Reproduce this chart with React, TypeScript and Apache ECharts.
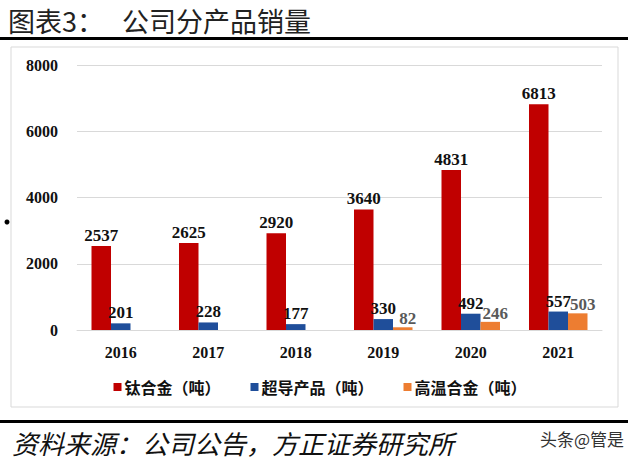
import React, { useEffect, useRef } from "react";
import * as echarts from "echarts";

const categories = ["2016", "2017", "2018", "2019", "2020", "2021"];
const titanium = [2537, 2625, 2920, 3640, 4831, 6813];
const superconduct = [201, 228, 177, 330, 492, 557];
const hightemp: (number | null)[] = [null, null, null, 82, 246, 503];
const seriesNames = ["钛合金（吨）", "超导产品（吨）", "高温合金（吨）"];

const NUM_FONT = "'Liberation Serif', 'Times New Roman', serif";
const CJK_FONT = "'Noto Sans CJK SC', sans-serif";

export default function App() {
  const ref = useRef<HTMLDivElement>(null);
  useEffect(() => {
    if (!ref.current) return;
    const chart = echarts.init(ref.current, null, { renderer: "svg" });
    const label = (color: string, dx: number) => ({
      show: true,
      position: "top" as const,
      distance: 2,
      offset: [dx, 0],
      color,
      fontFamily: NUM_FONT,
      fontWeight: "bold" as const,
      fontSize: 17,
    });
    chart.setOption({
      animation: false,
      backgroundColor: "#ffffff",
      graphic: [
        { type: "text", x: 8, y: 20, style: { text: "图表3：", fontFamily: CJK_FONT, fontSize: 27, fill: "#222", verticalAlign: "middle" } },
        { type: "text", x: 122, y: 20, style: { text: "公司分产品销量", fontFamily: CJK_FONT, fontSize: 27, fill: "#222", verticalAlign: "middle" } },
        { type: "rect", shape: { x: 0, y: 37, width: 628, height: 3 }, style: { fill: "#000" } },
        { type: "rect", shape: { x: 11, y: 47, width: 607, height: 360 }, style: { fill: "none", stroke: "#d9d9d9", lineWidth: 1 } },
        { type: "circle", shape: { cx: 7, cy: 222, r: 2.5 }, style: { fill: "#000" } },
        { type: "rect", shape: { x: 0, y: 420, width: 628, height: 3 }, style: { fill: "#000" } },
        { type: "text", x: 12, y: 442, style: { text: "资料来源：公司公告，方正证券研究所", fontFamily: CJK_FONT, fontSize: 26, fontStyle: "italic", fill: "#111", verticalAlign: "middle" } },
        { type: "text", x: 540, y: 438, style: { text: "头条@管是", fontFamily: CJK_FONT, fontSize: 17, fill: "#333", verticalAlign: "middle" } },
      ],
      legend: {
        top: 374,
        left: "center",
        icon: "rect",
        itemWidth: 8,
        itemHeight: 8,
        itemGap: 30,
        textStyle: { fontFamily: CJK_FONT, fontWeight: "bold", fontSize: 16, color: "#111", padding: [0, 0, 0, -2] },
        data: seriesNames,
      },
      grid: { left: 77, right: 38, top: 65, bottom: 129 },
      xAxis: {
        type: "category",
        data: categories,
        axisLine: { lineStyle: { color: "#d9d9d9" } },
        axisTick: { show: false },
        axisLabel: { margin: 14, fontFamily: NUM_FONT, fontWeight: "bold", fontSize: 16, color: "#111" },
      },
      yAxis: {
        type: "value",
        min: 0,
        max: 8000,
        interval: 2000,
        axisLine: { show: false },
        axisTick: { show: false },
        splitLine: { lineStyle: { color: "#d9d9d9" } },
        axisLabel: { margin: 19, fontFamily: NUM_FONT, fontWeight: "bold", fontSize: 16, color: "#111", formatter: (v: number) => String(v) },
      },
      series: [
        { name: seriesNames[0], type: "bar", data: titanium, barWidth: 19.5, barGap: "0%", itemStyle: { color: "#C00000" }, label: label("#111", 0) },
        { name: seriesNames[1], type: "bar", data: superconduct, barWidth: 19.5, barGap: "0%", itemStyle: { color: "#1F4E9A" }, label: label("#111", 0) },
        { name: seriesNames[2], type: "bar", data: hightemp, barWidth: 19.5, barGap: "0%", itemStyle: { color: "#ED7D31" }, label: { ...label("#595959", 5), distance: 0 } },
      ],
    });
    return () => chart.dispose();
  }, []);
  return <div ref={ref} style={{ position: "fixed", left: 0, top: 0, width: 640, height: 459 }} />;
}
